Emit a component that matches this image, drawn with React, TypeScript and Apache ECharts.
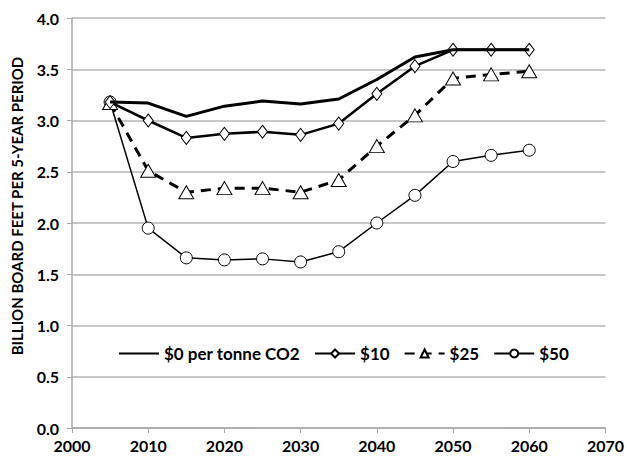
import React, { useEffect, useRef } from "react";
import * as echarts from "echarts";

const years = [2005, 2010, 2015, 2020, 2025, 2030, 2035, 2040, 2045, 2050, 2055, 2060];
const s0 = [3.18, 3.17, 3.04, 3.14, 3.19, 3.16, 3.21, 3.40, 3.62, 3.69, 3.69, 3.69];
const s10 = [3.18, 3.0, 2.83, 2.87, 2.89, 2.86, 2.97, 3.26, 3.53, 3.69, 3.69, 3.69];
const s25 = [3.17, 2.51, 2.30, 2.34, 2.34, 2.30, 2.42, 2.75, 3.05, 3.41, 3.45, 3.48];
const s50 = [3.18, 1.95, 1.66, 1.64, 1.65, 1.62, 1.72, 2.0, 2.27, 2.6, 2.66, 2.71];
const names = ["$0 per tonne CO2", "$10", "$25", "$50"];
const yTitle = "BILLION BOARD FEET PER 5-YEAR PERIOD";

const pairs = (v: number[]) => years.map((y, i) => [y, v[i]]);

export default function App() {
  const ref = useRef<HTMLDivElement>(null);
  useEffect(() => {
    const chart = echarts.init(ref.current!, null, { renderer: "svg" });
    const font = "Lato";
    chart.setOption({
      animation: false,
      textStyle: { fontFamily: font },
      grid: { left: 72, right: 20, top: 18, bottom: 30 },
      graphic: [
        {
          type: "text",
          x: 17,
          y: 206,
          rotation: Math.PI / 2,
          style: {
            text: yTitle,
            font: "bold 15px Lato",
            fill: "#000",
            textAlign: "center",
            textVerticalAlign: "middle",
          },
        },
      ],
      legend: {
        top: 339,
        left: 110,
        itemGap: 14,
        itemWidth: 40,
        itemHeight: 10,
        backgroundColor: "#fff",
        padding: [6, 8],
        textStyle: { fontFamily: font, fontWeight: "bold", fontSize: 17, color: "#000" },
        data: [
          { name: names[0], itemStyle: { color: "rgba(0,0,0,0)", borderColor: "rgba(0,0,0,0)", borderWidth: 0 } },
          names[1],
          names[2],
          names[3],
        ],
      },
      xAxis: {
        type: "value",
        min: 2000,
        max: 2070,
        interval: 10,
        axisLine: { lineStyle: { color: "#a8a8a8", width: 1.5 } },
        axisTick: { show: true, length: 5, lineStyle: { color: "#a8a8a8" } },
        splitLine: { show: false },
        axisLabel: {
          color: "#000",
          fontWeight: "bold",
          fontSize: 16,
          fontFamily: font,
          margin: 9,
          formatter: (v: number) => String(v),
        },
      },
      yAxis: {
        type: "value",
        min: 0,
        max: 4,
        interval: 0.5,
        axisLine: { show: true, lineStyle: { color: "#a8a8a8", width: 1.5 } },
        axisTick: { show: true, length: 5, lineStyle: { color: "#a8a8a8" } },
        splitLine: { show: true, lineStyle: { color: "#b4b4b4", width: 1.5 } },
        axisLabel: {
          color: "#000",
          fontWeight: "bold",
          fontSize: 16,
          fontFamily: font,
          margin: 13,
          formatter: (v: number) => v.toFixed(1),
        },
      },
      series: [
        {
          name: names[0],
          type: "line",
          data: pairs(s0),
          showSymbol: false,
          symbol: "none",
          lineStyle: { color: "#000", width: 3 },
          itemStyle: { color: "#000" },
          z: 5,
        },
        {
          name: names[1],
          type: "line",
          data: pairs(s10),
          symbol: "diamond",
          symbolSize: [10, 13],
          lineStyle: { color: "#000", width: 2.5 },
          itemStyle: { color: "#fff", borderColor: "#000", borderWidth: 1 },
          z: 4,
        },
        {
          name: names[2],
          type: "line",
          data: pairs(s25),
          symbol: "triangle",
          symbolSize: [15, 13],
          lineStyle: { color: "#000", width: 3, type: [10, 7] },
          itemStyle: { color: "#fff", borderColor: "#000", borderWidth: 1 },
          z: 3,
        },
        {
          name: names[3],
          type: "line",
          data: pairs(s50),
          symbol: "circle",
          symbolSize: 12,
          lineStyle: { color: "#000", width: 1.5 },
          itemStyle: { color: "#fff", borderColor: "#000", borderWidth: 1 },
          z: 2,
        },
      ],
    });
    return () => chart.dispose();
  }, []);
  return <div ref={ref} style={{ position: "absolute", left: 0, top: 0, width: 627, height: 458 }} />;
}
